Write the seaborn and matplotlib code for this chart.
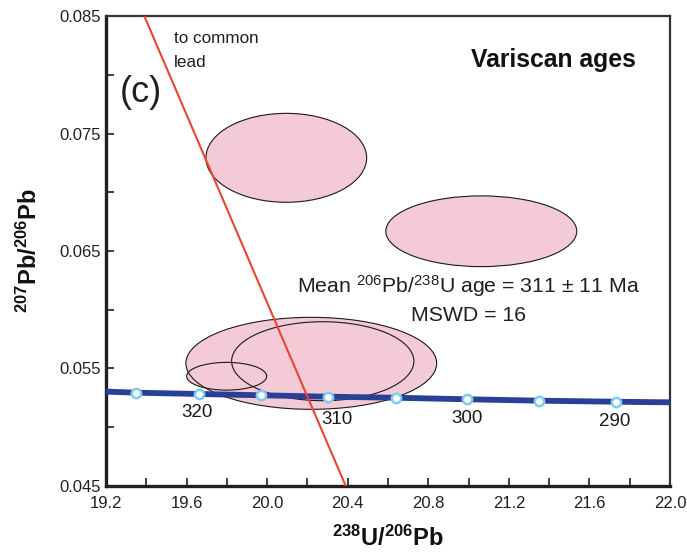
import matplotlib
matplotlib.use("Agg")
import matplotlib.pyplot as plt
from matplotlib.patches import Ellipse
import pandas as pd
import seaborn as sns

# Concordia curve (Tera-Wasserburg) with age markers in Ma
marker_age = [325, 320, 315, 310, 305, 300, 295, 290]
marker_u238_pb206 = [19.35, 19.66, 19.97, 20.30, 20.64, 20.99, 21.35, 21.73]
marker_pb207_pb206 = [0.05294, 0.05283, 0.05272, 0.05260, 0.05251, 0.05238, 0.05226, 0.05217]
curve_u238_pb206 = [19.2] + marker_u238_pb206 + [22.0]
curve_pb207_pb206 = [0.05303] + marker_pb207_pb206 + [0.05212]
labelled_ages = [320, 310, 300, 290]

# Discordia towards common lead
common_lead_x = [19.39, 20.39]
common_lead_y = [0.085, 0.045]

# Analytical error ellipses: centre, full width, full height
ell_x = [20.095, 21.063, 20.219, 20.276, 19.799]
ell_y = [0.07293, 0.06668, 0.05544, 0.05562, 0.05434]
ell_w = [0.798, 0.948, 1.245, 0.905, 0.397]
ell_h = [0.00757, 0.00602, 0.00783, 0.00672, 0.00236]

x_ticks = [19.2, 19.6, 20.0, 20.4, 20.8, 21.2, 21.6, 22.0]
x_minor = [19.4, 19.8, 20.2, 20.6, 21.0, 21.4, 21.8]
y_ticks = [0.045, 0.055, 0.065, 0.075, 0.085]
y_minor = [0.050, 0.060, 0.070, 0.080]

sns.set_theme(style="white")
plt.rcParams["font.family"] = ["Liberation Sans", "DejaVu Sans"]
plt.rcParams["mathtext.fontset"] = "custom"
plt.rcParams["mathtext.rm"] = "Liberation Sans"
plt.rcParams["mathtext.bf"] = "Liberation Sans:bold"
plt.rcParams["mathtext.it"] = "Liberation Sans:italic"

fig = plt.figure(figsize=(6.87, 5.52), dpi=100)
ax = fig.add_axes([0.1543, 0.1196, 0.8210, 0.8514])

fill = "#f3cad6"
for x, y, w, h in zip(ell_x, ell_y, ell_w, ell_h):
    ax.add_patch(Ellipse((x, y), w, h, facecolor=fill, edgecolor="none", zorder=1))
for x, y, w, h in zip(ell_x, ell_y, ell_w, ell_h):
    ax.add_patch(Ellipse((x, y), w, h, facecolor="none", edgecolor="#1a1a1a",
                         linewidth=0.8, zorder=2))

curve = pd.DataFrame({"x": curve_u238_pb206, "y": curve_pb207_pb206})
sns.lineplot(data=curve, x="x", y="y", ax=ax, color="#2a3f98", linewidth=4.2,
             sort=False, zorder=3)
markers = pd.DataFrame({"x": marker_u238_pb206, "y": marker_pb207_pb206})
sns.scatterplot(data=markers, x="x", y="y", ax=ax, s=45, color="white",
                edgecolor="#7fcdee", linewidth=1.8, zorder=5)

lead = pd.DataFrame({"x": common_lead_x, "y": common_lead_y})
sns.lineplot(data=lead, x="x", y="y", ax=ax, color="#ee4232", linewidth=1.5,
             sort=False, zorder=4)

label_offsets = {320: (-1, -13.5), 310: (7, -16.5), 300: (0, -14), 290: (-1, -14)}
for age in labelled_ages:
    i = marker_age.index(age)
    ax.annotate(str(age), (marker_u238_pb206[i], marker_pb207_pb206[i]),
                xytext=label_offsets[age], textcoords="offset points",
                ha="center", va="center", fontsize=13.5, color="#1a1a1a")

ax.text(0.121, 0.968, "to common\nlead", transform=ax.transAxes, ha="left",
        va="top", fontsize=12.3, color="#231f20", linespacing=1.75)
ax.text(0.025, 0.838, "(c)", transform=ax.transAxes, ha="left", va="center",
        fontsize=26, color="#231f20")
ax.text(0.794, 0.906, "Variscan ages", transform=ax.transAxes, ha="center",
        va="center", fontsize=17.8, fontweight="bold", color="#111111")
ax.text(0.643, 0.426, r"Mean $^{206}$Pb/$^{238}$U age = 311 ± 11 Ma",
        transform=ax.transAxes, ha="center", va="center", fontsize=15.3,
        color="#231f20")
ax.text(0.643, 0.362, "MSWD = 16", transform=ax.transAxes, ha="center",
        va="center", fontsize=15.3, color="#231f20")

ax.set_xlim(19.2, 22.0)
ax.set_ylim(0.045, 0.085)
ax.set_xticks(x_ticks)
ax.set_xticklabels([f"{v:.1f}" for v in x_ticks])
ax.set_xticks(x_minor, minor=True)
ax.set_yticks(y_ticks)
ax.set_yticklabels([f"{v:.3f}" for v in y_ticks])
ax.set_yticks(y_minor, minor=True)
ax.tick_params(which="both", direction="in", length=6, width=1.2,
               colors="#231f20", labelsize=12)
ax.tick_params(axis="x", which="both", pad=7.5)
ax.tick_params(axis="y", which="both", pad=4)
ax.tick_params(which="both", top=False, right=False, bottom=True, left=True)

for side in ["left", "bottom"]:
    ax.spines[side].set_linewidth(2.4)
    ax.spines[side].set_color("#231f20")
for side in ["top", "right"]:
    ax.spines[side].set_linewidth(1.6)
    ax.spines[side].set_color("#333333")

ax.set_xlabel(r"$^{\mathbf{238}}$U/$^{\mathbf{206}}$Pb", fontsize=17,
              fontweight="bold", labelpad=10.5, color="#111111")
ax.set_ylabel(r"$^{\mathbf{207}}$Pb/$^{\mathbf{206}}$Pb", fontsize=17,
              fontweight="bold", labelpad=12, color="#111111")

fig.savefig("out.png", dpi=100)
